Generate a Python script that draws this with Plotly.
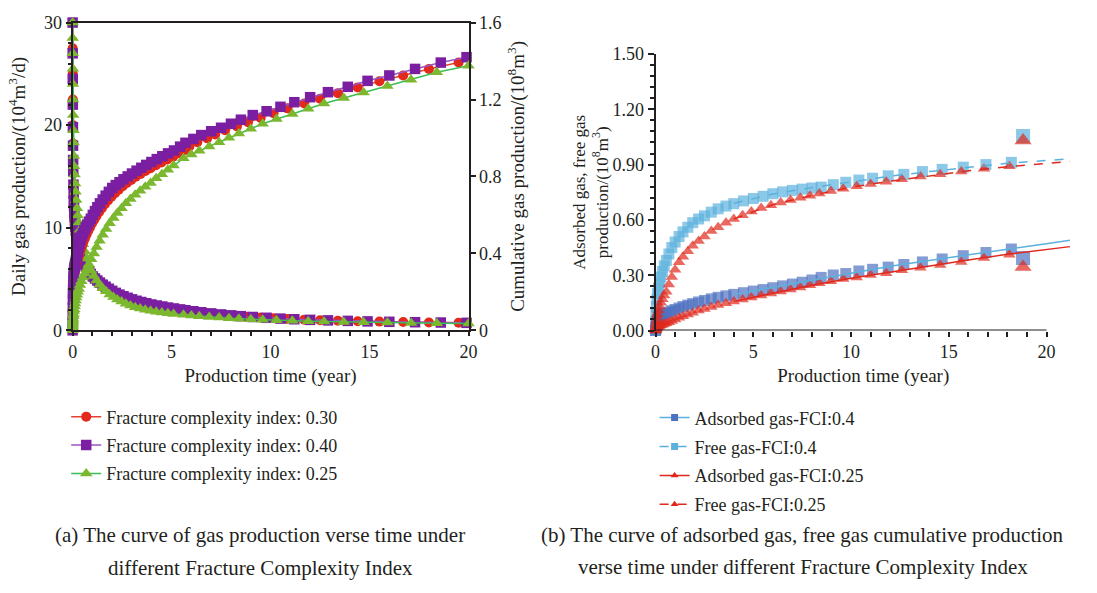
import plotly.graph_objects as go

# ---------------- Left chart (a) data ----------------
t_fci030 = [0, 0.003, 0.006, 0.01, 0.015, 0.02, 0.026, 0.033, 0.042, 0.052,
            0.063, 0.075, 0.09, 0.107, 0.127, 0.15, 0.175, 0.2, 0.23, 0.27,
            0.31, 0.36, 0.42, 0.48, 0.55, 0.62, 0.7, 0.79, 0.88, 0.98,
            1.09, 1.21, 1.34, 1.48, 1.63, 1.79, 1.96, 2.14, 2.33, 2.53,
            2.74, 2.96, 3.19, 3.43, 3.68, 3.94, 4.21, 4.49, 4.78, 5.08,
            5.4, 5.65, 5.9, 6.3, 6.8, 7.2, 7.7, 8.3, 8.86, 9.5,
            10.15, 10.85, 11.7, 12.5, 13.4, 14.4, 15.5, 16.7, 18.0, 19.5]
daily_fci030 = [30, 27.5, 25, 22.5, 20, 18.2, 16.6, 15.3, 14.0, 13.0,
                12.2, 11.5, 10.9, 10.3, 9.8, 9.4, 9.0, 8.7, 8.4, 8.0,
                7.7, 7.3, 7.0, 6.7, 6.4, 6.15, 5.9, 5.65, 5.4, 5.2,
                5.0, 4.78, 4.57, 4.36, 4.16, 3.96, 3.77, 3.58, 3.42, 3.26,
                3.11, 2.97, 2.84, 2.71, 2.59, 2.48, 2.37, 2.27, 2.17, 2.08,
                1.99, 1.93, 1.87, 1.78, 1.67, 1.59, 1.5, 1.41, 1.33, 1.25,
                1.18, 1.11, 1.04, 0.99, 0.94, 0.89, 0.85, 0.81, 0.77, 0.74]
cum_fci030 = [0, 0.035, 0.07, 0.105, 0.14, 0.17, 0.195, 0.215, 0.235, 0.255,
              0.27, 0.283, 0.295, 0.305, 0.315, 0.325, 0.335, 0.345, 0.357, 0.372,
              0.387, 0.405, 0.423, 0.44, 0.46, 0.478, 0.497, 0.517, 0.535, 0.555,
              0.575, 0.595, 0.615, 0.635, 0.655, 0.675, 0.695, 0.713, 0.731, 0.749,
              0.766, 0.782, 0.798, 0.813, 0.828, 0.843, 0.858, 0.873, 0.888, 0.903,
              0.92, 0.936, 0.956, 0.978, 0.998, 1.018, 1.04, 1.06, 1.082, 1.104,
              1.129, 1.154, 1.179, 1.204, 1.233, 1.263, 1.295, 1.325, 1.359, 1.392]

t_fci040 = [0, 0.003, 0.006, 0.01, 0.015, 0.02, 0.025, 0.03, 0.04, 0.05,
            0.06, 0.07, 0.085, 0.1, 0.12, 0.14, 0.165, 0.19, 0.22, 0.26,
            0.3, 0.35, 0.4, 0.46, 0.52, 0.59, 0.66, 0.74, 0.83, 0.92,
            1.02, 1.13, 1.25, 1.38, 1.52, 1.67, 1.83, 2.0, 2.18, 2.37,
            2.57, 2.78, 3.0, 3.23, 3.47, 3.72, 3.98, 4.25, 4.53, 4.82,
            5.12, 5.43, 5.7, 6.1, 6.5, 7.0, 7.5, 8.0, 8.5, 9.1,
            9.8, 10.5, 11.2, 12.0, 12.9, 13.9, 14.9, 16.0, 17.3, 18.6, 19.9]
daily_fci040 = [30, 27, 24.5, 22, 19.8, 18, 16.6, 15.5, 14.2, 13.3,
                12.6, 12.1, 11.5, 11.0, 10.5, 10.1, 9.7, 9.3, 8.9, 8.5,
                8.2, 7.8, 7.4, 7.1, 6.8, 6.5, 6.25, 6.0, 5.75, 5.5,
                5.25, 5.05, 4.85, 4.65, 4.45, 4.25, 4.05, 3.85, 3.65, 3.48,
                3.32, 3.17, 3.02, 2.88, 2.76, 2.64, 2.52, 2.42, 2.32, 2.22,
                2.13, 2.04, 1.96, 1.86, 1.76, 1.65, 1.55, 1.46, 1.38, 1.3,
                1.22, 1.14, 1.08, 1.02, 0.97, 0.92, 0.87, 0.83, 0.79, 0.76, 0.73]
cum_fci040 = [0, 0.04, 0.08, 0.12, 0.16, 0.19, 0.215, 0.235, 0.26, 0.28,
              0.295, 0.307, 0.32, 0.33, 0.34, 0.35, 0.362, 0.375, 0.39, 0.41,
              0.43, 0.45, 0.47, 0.49, 0.505, 0.52, 0.535, 0.55, 0.565, 0.58,
              0.6, 0.62, 0.64, 0.66, 0.68, 0.7, 0.72, 0.74, 0.755, 0.77,
              0.785, 0.8, 0.815, 0.83, 0.845, 0.86, 0.875, 0.89, 0.905, 0.92,
              0.935, 0.955, 0.975, 0.995, 1.015, 1.035, 1.053, 1.074, 1.095, 1.119,
              1.139, 1.162, 1.186, 1.212, 1.238, 1.266, 1.297, 1.325, 1.359, 1.392, 1.42]

t_fci025 = [0, 0.004, 0.008, 0.012, 0.017, 0.023, 0.03, 0.04, 0.05, 0.065,
            0.08, 0.1, 0.125, 0.15, 0.18, 0.22, 0.26, 0.31, 0.37, 0.44,
            0.52, 0.61, 0.71, 0.82, 0.94, 1.07, 1.21, 1.36, 1.52, 1.69,
            1.87, 2.06, 2.26, 2.47, 2.69, 2.92, 3.16, 3.41, 3.67, 3.94,
            4.22, 4.51, 4.81, 5.1, 5.6, 6.0, 6.4, 6.9, 7.4, 7.9,
            8.4, 9.0, 9.6, 10.3, 11.1, 11.9, 12.7, 13.7, 14.7, 15.9,
            17.1, 18.4, 20.0]
daily_fci025 = [30, 28.5, 27, 25.5, 24, 22.5, 21, 19.5, 18.3, 17,
                16, 15.2, 14.3, 13.5, 12.7, 11.9, 11.2, 10.5, 9.8, 9.1,
                8.4, 7.7, 7.0, 6.4, 5.8, 5.3, 4.85, 4.45, 4.1, 3.8,
                3.5, 3.25, 3.0, 2.8, 2.6, 2.42, 2.26, 2.12, 2.0, 1.9,
                1.81, 1.73, 1.66, 1.6, 1.52, 1.45, 1.38, 1.31, 1.24, 1.18,
                1.13, 1.08, 1.03, 0.98, 0.93, 0.89, 0.85, 0.81, 0.78, 0.75,
                0.72, 0.69, 0.66]
cum_fci025 = [0, 0.01, 0.02, 0.03, 0.04, 0.05, 0.06, 0.075, 0.085, 0.1,
              0.11, 0.125, 0.14, 0.155, 0.17, 0.185, 0.2, 0.215, 0.235, 0.255,
              0.275, 0.295, 0.318, 0.342, 0.37, 0.4, 0.433, 0.466, 0.497, 0.527,
              0.556, 0.584, 0.61, 0.635, 0.66, 0.683, 0.705, 0.726, 0.746, 0.766,
              0.79, 0.812, 0.835, 0.857, 0.894, 0.914, 0.934, 0.956, 0.978, 1.001,
              1.023, 1.048, 1.074, 1.099, 1.124, 1.152, 1.179, 1.208, 1.236, 1.27,
              1.303, 1.342, 1.375]

# ---------------- Right chart (b) data ----------------
t_b04 = [0, 0.01, 0.02, 0.04, 0.07, 0.1, 0.15, 0.2, 0.27, 0.35,
         0.44, 0.55, 0.68, 0.83, 1.0, 1.2, 1.4, 1.65, 1.9, 2.2,
         2.5, 2.85, 3.2, 3.6, 4.0, 4.5, 5.0, 5.5, 6.0, 6.5,
         7.0, 7.5, 8.0, 8.47, 9.09, 9.73, 10.4, 11.1, 11.9, 12.7,
         13.65, 14.66, 15.74, 16.9, 18.2, 18.8]
free_b04 = [0, 0.05, 0.09, 0.13, 0.17, 0.2, 0.23, 0.26, 0.29, 0.32,
            0.35, 0.38, 0.415, 0.45, 0.48, 0.51, 0.535, 0.56, 0.585, 0.605,
            0.622, 0.642, 0.66, 0.675, 0.688, 0.703, 0.716, 0.728, 0.742, 0.752,
            0.76, 0.767, 0.773, 0.778, 0.791, 0.804, 0.816, 0.826, 0.839, 0.847,
            0.862, 0.874, 0.886, 0.9, 0.912, 1.055]
ads_b04 = [0, 0.01, 0.02, 0.035, 0.05, 0.06, 0.07, 0.075, 0.08, 0.085,
           0.09, 0.095, 0.1, 0.107, 0.114, 0.122, 0.13, 0.138, 0.146, 0.155,
           0.163, 0.172, 0.18, 0.188, 0.196, 0.205, 0.214, 0.222, 0.232, 0.242,
           0.252, 0.262, 0.274, 0.288, 0.301, 0.309, 0.323, 0.332, 0.344, 0.358,
           0.372, 0.388, 0.406, 0.423, 0.442, 0.393]

t_b025 = [0, 0.01, 0.02, 0.04, 0.07, 0.1, 0.15, 0.2, 0.27, 0.35,
          0.44, 0.55, 0.68, 0.83, 1.0, 1.2, 1.4, 1.65, 1.9, 2.2,
          2.5, 2.85, 3.2, 3.6, 4.0, 4.45, 4.9, 5.4, 5.9, 6.4,
          6.9, 7.4, 7.9, 8.38, 8.97, 9.6, 10.29, 11.0, 11.8, 12.6,
          13.55, 14.56, 15.64, 16.8, 18.1, 18.8]
free_b025 = [0, 0.02, 0.035, 0.055, 0.075, 0.09, 0.11, 0.13, 0.15, 0.17,
             0.19, 0.21, 0.25, 0.29, 0.33, 0.37, 0.4, 0.43, 0.46, 0.485,
             0.51, 0.54, 0.56, 0.585, 0.605, 0.625, 0.645, 0.665, 0.68, 0.695,
             0.708, 0.72, 0.731, 0.743, 0.757, 0.769, 0.783, 0.795, 0.807, 0.821,
             0.835, 0.847, 0.862, 0.877, 0.891, 1.03]
ads_b025 = [0, 0.003, 0.006, 0.01, 0.015, 0.018, 0.022, 0.025, 0.028, 0.031,
            0.035, 0.04, 0.045, 0.052, 0.06, 0.069, 0.077, 0.087, 0.097, 0.108,
            0.117, 0.128, 0.138, 0.148, 0.158, 0.168, 0.179, 0.19, 0.201, 0.212,
            0.223, 0.234, 0.245, 0.257, 0.267, 0.28, 0.288, 0.301, 0.311, 0.327,
            0.341, 0.355, 0.372, 0.393, 0.411, 0.345]

# trend lines (fitted curves drawn through the markers, extended forward)
t_trend = [4, 6, 8, 10, 12, 14, 16, 18, 20, 21.2]
trend_free_b04 = [0.69, 0.74, 0.775, 0.808, 0.837, 0.862, 0.886, 0.907, 0.922, 0.931]
trend_free_b025 = [0.605, 0.683, 0.733, 0.777, 0.81, 0.84, 0.866, 0.889, 0.907, 0.917]
trend_ads_b04 = [0.196, 0.235, 0.272, 0.313, 0.348, 0.38, 0.412, 0.441, 0.47, 0.489]
trend_ads_b025 = [0.158, 0.203, 0.246, 0.284, 0.318, 0.352, 0.383, 0.413, 0.44, 0.455]

left_labels = ["Fracture complexity index: 0.30", "Fracture complexity index: 0.40",
               "Fracture complexity index: 0.25"]
right_labels = ["Adsorbed gas-FCI:0.4", "Free gas-FCI:0.4", "Adsorbed gas-FCI:0.25",
                "Free gas-FCI:0.25"]

# ---------------- styling ----------------
FONT = "Liberation Serif"
TXT = "#231f20"
RED_M, RED_L = "#e2291c", "#e5402f"
PUR_M, PUR_L = "#7a1fa2", "#9b55c2"
GRN_M, GRN_L = "#7cb82f", "#3dbd55"
LBLUE = "#5bb1dd"
DBLUE = "#4f72c0"
RED_B = "#e0281c"

fig = go.Figure()

left_series = [
    (t_fci030, daily_fci030, cum_fci030, left_labels[0], RED_M, RED_L, "circle", 10),
    (t_fci040, daily_fci040, cum_fci040, left_labels[1], PUR_M, PUR_L, "square", 10.5),
    (t_fci025, daily_fci025, cum_fci025, left_labels[2], GRN_M, GRN_L, "triangle-up", 11),
]
for i, (t, d, c, name, mc, lc, sym, sz) in enumerate(left_series):
    g = "L%d" % i
    fig.add_trace(go.Scatter(x=t, y=d, mode="lines+markers", name=name, legend="legend",
                             legendgroup=g, line=dict(color=lc, width=1.5),
                             marker=dict(color=mc, symbol=sym, size=sz, line=dict(width=0)),
                             cliponaxis=False, xaxis="x", yaxis="y"))
for i, (t, d, c, name, mc, lc, sym, sz) in enumerate(left_series):
    g = "L%d" % i
    fig.add_trace(go.Scatter(x=t, y=c, mode="lines+markers", name=name, legend="legend",
                             legendgroup=g, showlegend=False, line=dict(color=lc, width=1.5),
                             marker=dict(color=mc, symbol=sym, size=sz, line=dict(width=0)),
                             cliponaxis=False, xaxis="x", yaxis="y2"))

# right chart markers
def sizes(n, normal, big):
    return [normal] * (n - 1) + [big]

fig.add_trace(go.Scatter(x=t_b04, y=free_b04, mode="markers", showlegend=False,
                         marker=dict(color=LBLUE, symbol="square", size=sizes(len(t_b04), 11, 14), line=dict(width=0)),
                         cliponaxis=False, xaxis="x2", yaxis="y3"))
fig.add_trace(go.Scatter(x=t_b04, y=ads_b04, mode="markers", showlegend=False,
                         marker=dict(color=DBLUE, symbol="square", size=sizes(len(t_b04), 11, 14), line=dict(width=0)),
                         cliponaxis=False, xaxis="x2", yaxis="y3"))
fig.add_trace(go.Scatter(x=t_b025, y=free_b025, mode="markers", showlegend=False,
                         marker=dict(color=RED_B, symbol="triangle-up", size=sizes(len(t_b025), 11, 15), line=dict(width=0)),
                         cliponaxis=False, xaxis="x2", yaxis="y3"))
fig.add_trace(go.Scatter(x=t_b025, y=ads_b025, mode="markers", showlegend=False,
                         marker=dict(color=RED_B, symbol="triangle-up", size=sizes(len(t_b025), 11, 15), line=dict(width=0)),
                         cliponaxis=False, xaxis="x2", yaxis="y3"))
# trend lines
for y, col, dash in [(trend_free_b04, LBLUE, "dash"), (trend_ads_b04, LBLUE, "solid"),
                     (trend_free_b025, RED_B, "dash"), (trend_ads_b025, RED_B, "solid")]:
    fig.add_trace(go.Scatter(x=t_trend, y=y, mode="lines", showlegend=False,
                             line=dict(color=col, width=1.5, dash=dash), xaxis="x2", yaxis="y3"))

# legend entries for right chart
leg_specs = [
    (right_labels[0], LBLUE, DBLUE, "square", "solid"),
    (right_labels[1], LBLUE, LBLUE, "square", "dash"),
    (right_labels[2], RED_B, RED_B, "triangle-up", "solid"),
    (right_labels[3], RED_B, RED_B, "triangle-up", "dash"),
]
for i, (name, lc, mc, sym, dash) in enumerate(leg_specs):
    fig.add_trace(go.Scatter(x=[None], y=[None], mode="lines+markers", name=name, legend="legend2",
                             legendgroup="R%d" % i, line=dict(color=lc, width=1.5, dash=dash),
                             marker=dict(color=mc, symbol=sym, size=7, line=dict(width=0)),
                             xaxis="x2", yaxis="y3"))

W, H = 1097, 593
def px(x):
    return x / W
def py(y):
    return 1 - y / H

tickfont = dict(family=FONT, size=18, color=TXT)
titlefont = dict(family=FONT, size=19, color=TXT)
AX = "#231f20"

fig.update_layout(
    width=W, height=H, margin=dict(l=0, r=0, t=0, b=0),
    paper_bgcolor="white", plot_bgcolor="white",
    font=dict(family=FONT, size=16, color=TXT),
    xaxis=dict(domain=[px(68.5), px(469.5)], range=[0, 20], anchor="y",
               showgrid=False, zeroline=False, showline=True, linecolor=AX, linewidth=2, mirror=True,
               tickvals=[0, 5, 10, 15, 20], ticks="outside", ticklen=4, tickwidth=1.5, tickcolor=AX,
               minor=dict(dtick=1, ticks="outside", ticklen=4, tickwidth=1.5, tickcolor=AX),
               tickfont=tickfont,
               title=dict(text="Production time (year)", font=titlefont, standoff=8)),
    yaxis=dict(domain=[py(331.5), py(13)], range=[0, 30], anchor="x",
               showgrid=False, zeroline=False, showline=True, linecolor=AX, linewidth=2,
               tickvals=[0, 10, 20, 30], ticks="outside", ticklen=5, tickwidth=1.5, tickcolor=AX,
               minor=dict(dtick=2, ticks="outside", ticklen=3, tickwidth=1.5, tickcolor=AX),
               tickfont=tickfont,
               title=dict(text="Daily gas production/(10<sup>4</sup>m<sup>3</sup>/d)", font=titlefont, standoff=13)),
    yaxis2=dict(range=[0, 1.6], overlaying="y", side="right", anchor="x",
                showgrid=False, zeroline=False, showline=True, linecolor=AX, linewidth=2,
                tickvals=[0, 0.4, 0.8, 1.2, 1.6], ticktext=["0", "0.4", "0.8", "1.2", "1.6"],
                ticks="outside", ticklen=5, tickwidth=1.5, tickcolor=AX, tickfont=tickfont,
                title=dict(text="Cumulative gas production/(10<sup>8</sup>m<sup>3</sup>)", font=titlefont, standoff=10)),
    xaxis2=dict(domain=[px(659), px(659 + 21.25 * 19.8)], range=[0, 21.25], anchor="y3",
                showgrid=False, zeroline=False, showline=False,
                tickvals=[0, 5, 10, 15, 20], ticks="outside", ticklen=5, tickwidth=1.5, tickcolor=AX,
                minor=dict(tickmode="array", tickvals=[1, 2, 3, 4, 6, 7, 8, 9, 11, 12, 13, 14, 16, 17, 18, 19],
                           ticks="outside", ticklen=5, tickwidth=1.5, tickcolor=AX),
                tickfont=tickfont,
                title=dict(text="Production time (year)", font=titlefont, standoff=7)),
    yaxis3=dict(domain=[py(331.7), py(45.5)], range=[0, 1.5], anchor="x2",
                showgrid=False, zeroline=False, showline=True, linecolor=AX, linewidth=2,
                tickvals=[0, 0.3, 0.6, 0.9, 1.2, 1.5], tickformat=".2f",
                ticks="outside", ticklen=6, tickwidth=1.5, tickcolor=AX,
                minor=dict(dtick=0.06, ticks="outside", ticklen=4, tickwidth=1.5, tickcolor=AX),
                tickfont=tickfont,
                title=dict(text="Adsorbed gas, free gas<br>production/(10<sup>8</sup>m<sup>3</sup>)",
                           font=dict(family=FONT, size=17, color=TXT), standoff=0)),
    legend=dict(x=px(62), y=py(402), xanchor="left", yanchor="top", bgcolor="rgba(0,0,0,0)",
                font=dict(family=FONT, size=18, color=TXT), tracegroupgap=2, itemwidth=30),
    legend2=dict(x=px(658), y=py(403), xanchor="left", yanchor="top", bgcolor="rgba(0,0,0,0)",
                 font=dict(family=FONT, size=18, color=TXT), tracegroupgap=2.5, itemwidth=30),
    shapes=[dict(type="line", xref="x2", yref="y3", x0=0, x1=20, y0=0, y1=0,
                 line=dict(color=AX, width=2), layer="above")],
)

caps = [
    ("(a) The curve of gas production verse time under", 258, 543),
    ("different Fracture Complexity Index", 259, 577),
    ("(b) The curve of adsorbed gas, free gas cumulative production", 808, 543),
    ("verse time under different Fracture Complexity Index", 808, 576),
]
for text, cx, cy in caps:
    fig.add_annotation(text=text, x=px(cx), y=py(cy), xref="paper", yref="paper",
                       xanchor="center", yanchor="middle", showarrow=False,
                       font=dict(family=FONT, size=21, color=TXT))

fig.write_html("out.html")
